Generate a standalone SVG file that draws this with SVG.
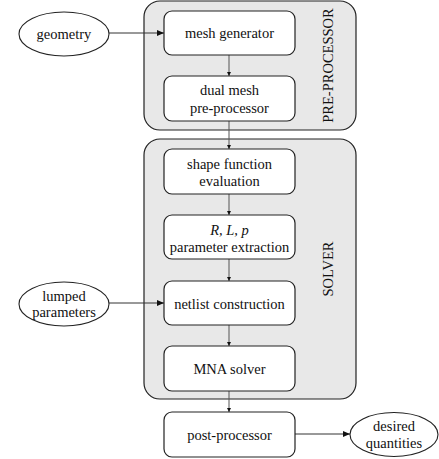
<svg xmlns="http://www.w3.org/2000/svg" width="439" height="459" viewBox="0 0 439 459" font-family="'Liberation Serif', 'Times New Roman', Times, serif">
<style>
text{font-family:'Liberation Serif','Times New Roman',Times,serif;font-size:14.5px;fill:#111;text-anchor:middle}
.grp{fill:#e8e8e8;stroke:#222;stroke-width:1.2}
.box{fill:#fff;stroke:#222;stroke-width:1.2}
.ell{fill:#fff;stroke:#222;stroke-width:1.1}
.v{stroke:#555;stroke-width:1;fill:none}
.h{stroke:#333;stroke-width:1;fill:none}
</style>
<defs>
<marker id="sm" viewBox="0 0 4 4" refX="4" refY="2" markerWidth="4" markerHeight="4" markerUnits="userSpaceOnUse" orient="auto"><path d="M0,0 L4,2 L0,4 Z" fill="#111"/></marker>
<marker id="big" viewBox="0 0 7 6" refX="7" refY="3" markerWidth="7" markerHeight="6" markerUnits="userSpaceOnUse" orient="auto"><path d="M0,0 L7,3 L0,6 Z" fill="#111"/></marker>
</defs>
<g id="pre-processor">
<rect class="grp" x="144" y="1" width="212" height="129" rx="16"/>
<text transform="translate(333,65.5) rotate(-90)">PRE-PROCESSOR</text>
</g>
<g id="solver">
<rect class="grp" x="144" y="139" width="212" height="260" rx="16"/>
<text transform="translate(333,269) rotate(-90)">SOLVER</text>
</g>
<g id="connectors">
<line class="h" x1="109" y1="33" x2="164" y2="33" marker-end="url(#big)"/>
<line class="v" x1="229" y1="55" x2="229" y2="76" marker-end="url(#sm)"/>
<line class="v" x1="229" y1="121" x2="229" y2="149" marker-end="url(#sm)"/>
<line class="v" x1="229" y1="194" x2="229" y2="215" marker-end="url(#sm)"/>
<line class="v" x1="229" y1="259" x2="229" y2="281" marker-end="url(#sm)"/>
<line class="h" x1="109" y1="303" x2="164" y2="303" marker-end="url(#big)"/>
<line class="v" x1="229" y1="325" x2="229" y2="346" marker-end="url(#sm)"/>
<line class="v" x1="229" y1="391" x2="229" y2="412" marker-end="url(#sm)"/>
<line class="h" x1="295" y1="434" x2="350" y2="434" marker-end="url(#big)"/>
</g>
<g id="geometry">
<ellipse class="ell" cx="64" cy="34" rx="45" ry="22"/>
<text x="64" y="38.5">geometry</text>
</g>
<g id="mesh-generator">
<rect class="box" x="164" y="11" width="131" height="44" rx="8"/>
<text x="229.5" y="38">mesh generator</text>
</g>
<g id="dual-mesh">
<rect class="box" x="164" y="76" width="131" height="45" rx="8"/>
<text x="229.5" y="95">dual mesh</text>
<text x="229.5" y="113">pre-processor</text>
</g>
<g id="shape-function">
<rect class="box" x="164" y="149" width="131" height="45" rx="8"/>
<text x="229.5" y="168.5">shape function</text>
<text x="229.5" y="185.5">evaluation</text>
</g>
<g id="parameter-extraction">
<rect class="box" x="164" y="215" width="131" height="44" rx="8"/>
<text x="229.5" y="234.5" font-style="italic">R, L, p</text>
<text x="229.5" y="251.5">parameter extraction</text>
</g>
<g id="lumped-parameters">
<ellipse class="ell" cx="64" cy="304" rx="45" ry="22"/>
<text x="64" y="301">lumped</text>
<text x="64" y="317">parameters</text>
</g>
<g id="netlist">
<rect class="box" x="164" y="281" width="131" height="44" rx="8"/>
<text x="229.5" y="309">netlist construction</text>
</g>
<g id="mna-solver">
<rect class="box" x="164" y="346" width="131" height="45" rx="8"/>
<text x="229.5" y="374">MNA solver</text>
</g>
<g id="post-processor">
<rect class="box" x="164" y="412" width="131" height="45" rx="8"/>
<text x="229.5" y="440">post-processor</text>
</g>
<g id="desired-quantities">
<ellipse class="ell" cx="394" cy="434.5" rx="44" ry="22"/>
<text x="394" y="431">desired</text>
<text x="394" y="447.5">quantities</text>
</g>
</svg>
